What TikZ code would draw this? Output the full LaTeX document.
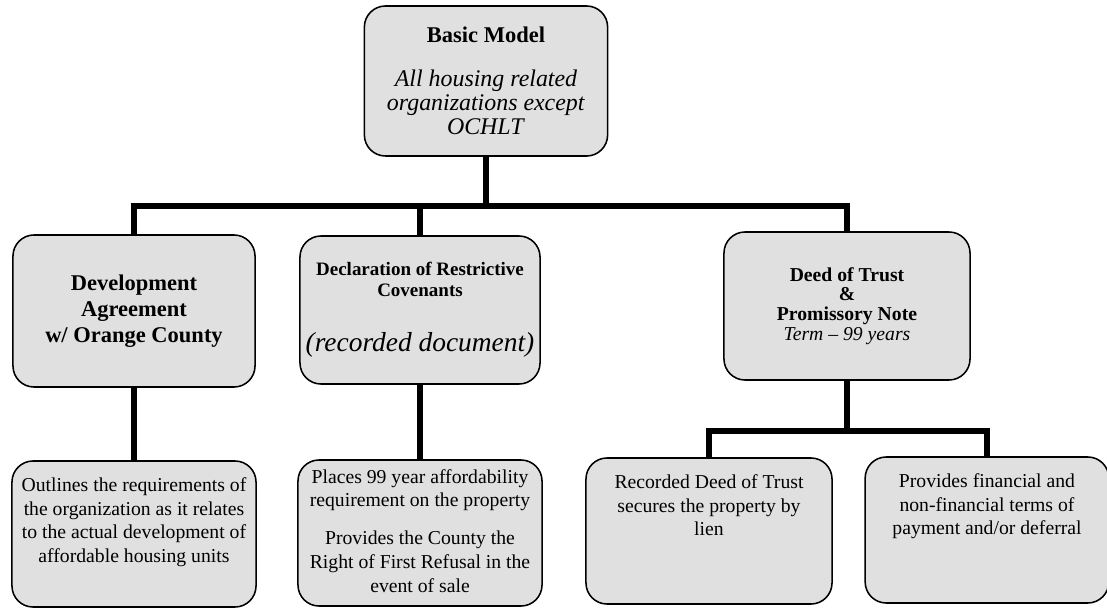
\documentclass[tikz,border=0pt]{standalone}
\usepackage{fontspec}
\setmainfont{Liberation Serif}
\usepackage{tikz}
\usetikzlibrary{positioning}

\tikzset{
    box/.style={draw=black, line width=1.1pt, rounded corners=15pt, fill=black!12, align=center, inner sep=2pt},
    leaf/.style={box, minimum width=6.1cm, minimum height=3.65cm, font=\fontsize{14}{17}\selectfont},
    link/.style={line width=4.3pt},
}
\newcommand{\leaftext}[2][8pt]{\parbox[c][3.4cm][t]{5.95cm}{\centering\vspace*{#1}#2}}

\begin{document}
\begin{tikzpicture}[x=0.025cm, y=-0.025cm]
    \useasboundingbox (0,0) rectangle (1107,611);

    \node (basic_model) [box, minimum width=6.08cm, minimum height=3.75cm, font=\fontsize{17}{17}\selectfont] at (486,81)
        {{\fontsize{16}{17}\selectfont\textbf{Basic Model}}\\[14pt]\textit{All housing related}\\\textit{organizations except}\\\textit{OCHLT}};

    \node (dev_agreement) [box, minimum width=6.05cm, minimum height=3.8cm, font=\fontsize{16}{18.5}\selectfont\bfseries] at (134,311)
        {Development\\Agreement\\w/ Orange County};
    \node (covenants) [box, minimum width=6.0cm, minimum height=3.7cm, font=\fontsize{13.5}{15}\selectfont\bfseries] at (420,310)
        {Declaration of Restrictive\\Covenants\\[24pt]{\fontsize{19.5}{22}\selectfont\mdseries\itshape (recorded document)}};
    \node (deed_trust) [box, minimum width=6.15cm, minimum height=3.7cm, font=\fontsize{14}{14}\selectfont\bfseries] at (847,306)
        {Deed of Trust\\\&\\Promissory Note\\{\mdseries\itshape Term -- 99 years}};

    \node (outline_req) [leaf] at (134,534)
        {\leaftext{Outlines the requirements of\\the organization as it relates\\to the actual development of\\affordable housing units}};
    \node (afford_req) [leaf] at (420,533)
        {\leaftext[3pt]{Places 99 year affordability\\requirement on the property\\[10pt]Provides the County the\\Right of First Refusal in the\\event of sale}};
    \node (recorded_lien) [leaf, minimum width=6.15cm] at (709,531)
        {\leaftext{Recorded Deed of Trust\\secures the property by\\lien}};
    \node (payment_terms) [leaf, minimum width=5.93cm] at (987,530)
        {\leaftext{Provides financial and\\non-financial terms of\\payment and/or deferral}};

    % connectors
    \coordinate (main_bus) at (486,206);
    \coordinate (deed_bus) at (847,431);
    \draw[link] (basic_model.south) -- (main_bus);
    \draw[link] (main_bus) -| (dev_agreement.north);
    \draw[link] (main_bus) -| (deed_trust.north);
    \draw[link] (main_bus -| covenants.north) -- (covenants.north);
    \draw[link] (dev_agreement.south) -- (outline_req.north);
    \draw[link] (covenants.south) -- (afford_req.north);
    \draw[link] (deed_trust.south) -- (deed_bus);
    \draw[link] (deed_bus) -| (recorded_lien.north);
    \draw[link] (deed_bus) -| (payment_terms.north);
\end{tikzpicture}
\end{document}
